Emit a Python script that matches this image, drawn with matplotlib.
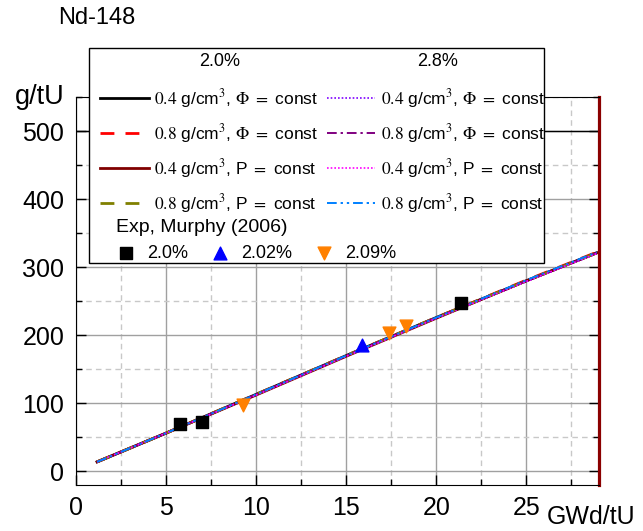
import matplotlib
matplotlib.use('Agg')
import matplotlib.pyplot as plt
from matplotlib.patches import Rectangle
from matplotlib.ticker import MultipleLocator

plt.rcParams['font.family'] = ['Liberation Sans', 'DejaVu Sans']
plt.rcParams['mathtext.fontset'] = 'stix'

# 燃耗 (GWd/tU) 与 Nd-148 含量 (g/tU)，8 条计算曲线几乎重合
burnup = [1.2, 5, 10, 15, 20, 25, 28.9]
nd_04_phi_20 = [14, 56, 113, 170, 226, 280, 321]
nd_08_phi_20 = [14, 56, 113, 170, 226, 281, 322]
nd_04_p_20 = [14, 56, 112, 169, 225, 280, 321]
nd_08_p_20 = [14, 56, 113, 170, 226, 280, 321]
nd_04_phi_28 = [14, 56, 112, 169, 225, 279, 320]
nd_08_phi_28 = [14, 56, 113, 170, 226, 280, 321]
nd_04_p_28 = [14, 56, 112, 169, 225, 279, 320]
nd_08_p_28 = [14, 56, 113, 170, 226, 281, 322]

# 实验点 Murphy (2006)
exp_20_x = [5.8, 7.0, 21.4]
exp_20_y = [69, 73, 247]
exp_202_x = [15.9]
exp_202_y = [185]
exp_209_x = [9.3, 17.4, 18.3]
exp_209_y = [97, 203, 213]

lab_04_phi = r'$0.4$ g/cm$^3$, $\Phi$ $=$ const'
lab_08_phi = r'$0.8$ g/cm$^3$, $\Phi$ $=$ const'
lab_04_p = r'$0.4$ g/cm$^3$, P $=$ const'
lab_08_p = r'$0.8$ g/cm$^3$, P $=$ const'

W, H = 643, 531
fig = plt.figure(figsize=(W / 100, H / 100), dpi=100)
ax = fig.add_axes([75.5 / W, 46 / H, 523 / W, 388 / H])

series = [
    (nd_04_phi_20, dict(color='black', ls='-', lw=2.0), lab_04_phi),
    (nd_08_phi_20, dict(color='#ff0000', ls=(0, (5, 4)), lw=2.0), lab_08_phi),
    (nd_04_p_20, dict(color='#800000', ls='-', lw=2.0), lab_04_p),
    (nd_08_p_20, dict(color='#808000', ls=(0, (5, 4)), lw=2.0), lab_08_p),
    (nd_04_phi_28, dict(color='#7f00ff', ls=(0, (1, 1.2)), lw=1.2), lab_04_phi),
    (nd_08_phi_28, dict(color='#800080', ls=(0, (5, 2, 1.2, 2)), lw=1.4), lab_08_phi),
    (nd_04_p_28, dict(color='#ff00ff', ls=(0, (1, 1.2)), lw=1.2), lab_04_p),
    (nd_08_p_28, dict(color='#0080ff', ls=(0, (5, 2, 1.2, 2, 1.2, 2)), lw=1.4), lab_08_p),
]
handles = []
for y, st, lab in series:
    ln, = ax.plot(burnup, y, label=lab, **st)
    handles.append(ln)

sq = ax.scatter(exp_20_x, exp_20_y, marker='s', s=64, color='black', zorder=5)
tu = ax.scatter(exp_202_x, exp_202_y, marker='^', s=85, color='#0000ff', zorder=5)
td = ax.scatter(exp_209_x, exp_209_y, marker='v', s=85, color='#ff8000', zorder=5)

ax.set_xlim(0, 29)
ax.set_ylim(-20, 550)
ax.xaxis.set_major_locator(MultipleLocator(5))
ax.xaxis.set_minor_locator(MultipleLocator(2.5))
ax.yaxis.set_minor_locator(MultipleLocator(50))
ax.set_yticks(range(0, 501, 100))
ax.grid(which='major', color='#a0a0a0', lw=1, ls='-')
ax.grid(which='minor', color='#c8c8c8', lw=1, ls=(0, (4, 3)))
ax.axhline(500, color='black', lw=1, zorder=1)  # 原图 500 那条线是黑的
ax.set_axisbelow(True)
ax.tick_params(which='both', direction='in', top=False, right=True,
               labelsize=18, color='black', width=1)
ax.tick_params(which='major', length=7, pad=8)
ax.tick_params(which='minor', length=4)
ax.spines['right'].set_color('#8b0000')
ax.spines['right'].set_linewidth(2.3)

fig.text(40 / W, 1 - 97 / H, 'g/tU', fontsize=19.5, ha='center', va='center')
fig.text(97 / W, 1 - 18 / H, 'Nd-148', fontsize=17, ha='center', va='center')
fig.text(591 / W, 1 - 517 / H, 'GWd/tU', fontsize=18, ha='center', va='center')

# 图例框
fig.add_artist(Rectangle((89 / W, 1 - 263 / H), (544 - 89) / W, (263 - 48) / H,
                         transform=fig.transFigure, fc='white', ec='black', lw=1, zorder=3))
fig.text(220 / W, 1 - 62 / H, '2.0%', fontsize=13, ha='center', va='center', zorder=4)
fig.text(438 / W, 1 - 62 / H, '2.8%', fontsize=13, ha='center', va='center', zorder=4)

leg1 = fig.legend(handles=handles, ncol=2, loc='upper left',
                  bbox_to_anchor=(100 / W, 1 - 87 / H), frameon=False,
                  fontsize=12.5, borderpad=0, borderaxespad=0,
                  handlelength=2.8, handletextpad=0.3, columnspacing=0.5,
                  labelspacing=0.69)
leg1.set_zorder(5)

leg2 = fig.legend(handles=[sq, tu, td], labels=['2.0%', '2.02%', '2.09%'], ncol=3,
                  loc='upper left', bbox_to_anchor=(116 / W, 1 - 219 / H),
                  frameon=False, fontsize=13, title='Exp, Murphy (2006)',
                  title_fontsize=14, alignment='left', borderpad=0,
                  borderaxespad=0, handlelength=1.1, handletextpad=0.6,
                  columnspacing=1.25, scatterpoints=1)
leg2.set_zorder(5)

fig.savefig('out.png', dpi=100)
